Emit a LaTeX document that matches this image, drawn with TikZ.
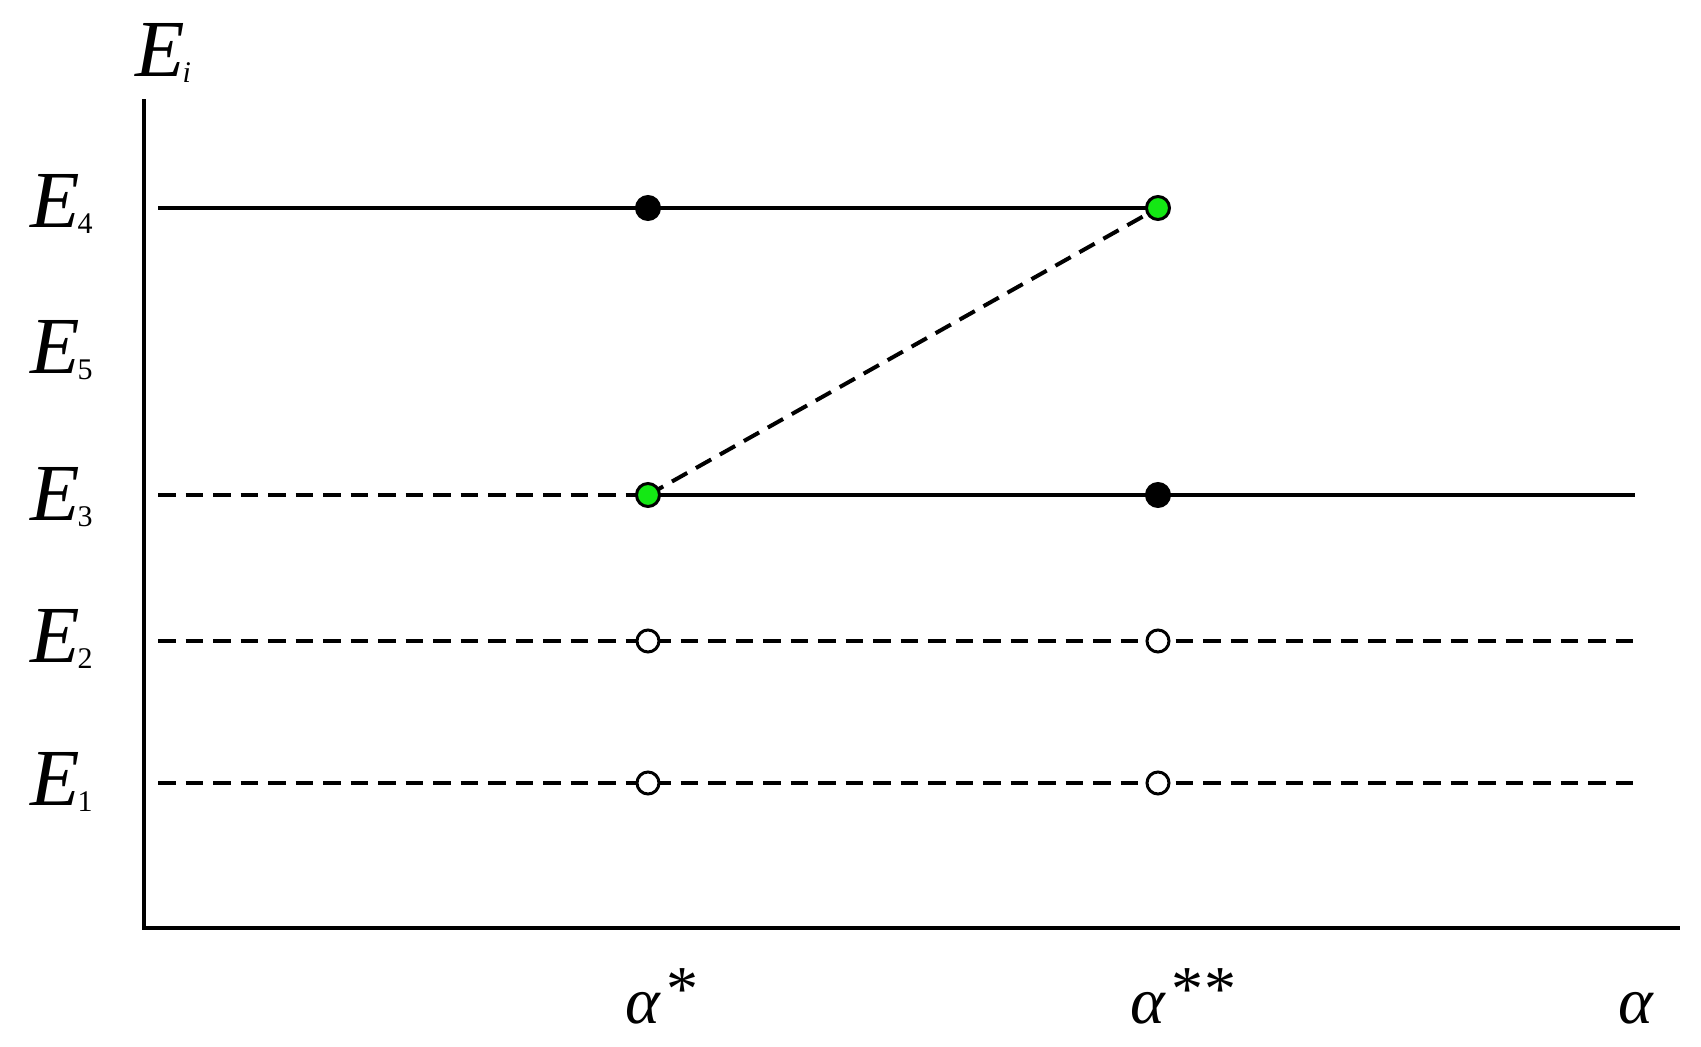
\documentclass[tikz,border=0pt]{standalone}
\usepackage{fontspec}
\setmainfont{Liberation Serif}
\definecolor{dotgreen}{RGB}{20,232,20}
\newcommand{\Elab}[1]{\textit{E}\kern-2pt\raisebox{-6pt}{\fontsize{30}{30}\selectfont #1}}
\newcommand{\astsup}[1]{\kern7pt\raisebox{13pt}{\fontsize{64}{64}\selectfont\upshape #1}}
\begin{document}
\begin{tikzpicture}[x=1pt,y=-1pt,
  level/.style={line width=4pt},
  dashlevel/.style={line width=4pt,dash pattern=on 17.5pt off 10pt},
  fulldot/.style={circle,draw=black,fill=black,line width=3pt,minimum size=23pt,inner sep=0pt},
  greendot/.style={circle,draw=black,fill=dotgreen,line width=3pt,minimum size=23pt,inner sep=0pt},
  opendot/.style={circle,draw=black,fill=white,line width=3pt,minimum size=22pt,inner sep=0pt},
  lab/.style={font=\fontsize{81}{90}\selectfont,inner sep=0pt,anchor=base west},
  alab/.style={font=\fontsize{66}{75}\selectfont\itshape,inner sep=0pt,anchor=base west}]
\useasboundingbox (0,0) rectangle (1701,1047);
% axes
\coordinate (otop) at (144,99);
\coordinate (orig) at (144,928);
\coordinate (xend) at (1680,928);
\draw[line width=4pt] (otop) -- (orig) -- (xend);
% level coordinates
\coordinate (s4) at (158,208);
\coordinate (s3) at (158,495);
\coordinate (s2) at (158,641);
\coordinate (s1) at (158,783);
\coordinate (e3) at (1635,495);
\coordinate (e2) at (1635,641);
\coordinate (e1) at (1635,783);
\coordinate (a4) at (648,208);
\coordinate (b4) at (1158,208);
\coordinate (a3) at (648,495);
\coordinate (b3) at (1158,495);
\coordinate (a2) at (648,641);
\coordinate (b2) at (1158,641);
\coordinate (a1) at (648,783);
\coordinate (b1) at (1158,783);
% level lines
\draw[level] (s4) -- (b4);
\draw[dashlevel] (s3) -- (a3);
\draw[level] (a3) -- (e3);
\draw[dashlevel] (s2) -- (e2);
\draw[dashlevel] (s1) -- (e1);
\draw[dashlevel] (a3) -- (b4);
% dots
\node[fulldot] (d4a) at (a4) {};
\node[greendot] (d4b) at (b4) {};
\node[greendot] (d3a) at (a3) {};
\node[fulldot] (d3b) at (b3) {};
\node[opendot] (d2a) at (a2) {};
\node[opendot] (d2b) at (b2) {};
\node[opendot] (d1a) at (a1) {};
\node[opendot] (d1b) at (b1) {};
% labels
\node[lab] (lEi) at (135,76) {\textit{E}\kern-2pt\raisebox{-6pt}{\fontsize{30}{30}\selectfont\itshape i}};
\node[lab] (lE4) at (30,227) {\Elab{4}};
\node[lab] (lE5) at (30,373) {\Elab{5}};
\node[lab] (lE3) at (30,520) {\Elab{3}};
\node[lab] (lE2) at (30,662) {\Elab{2}};
\node[lab] (lE1) at (30,805) {\Elab{1}};
\node[alab] (la1) at (625,1023) {α\astsup{*}};
\node[alab] (la2) at (1130,1023) {α\astsup{*\kern1pt*}};
\node[alab] (la3) at (1618,1023) {α};
\end{tikzpicture}
\end{document}
